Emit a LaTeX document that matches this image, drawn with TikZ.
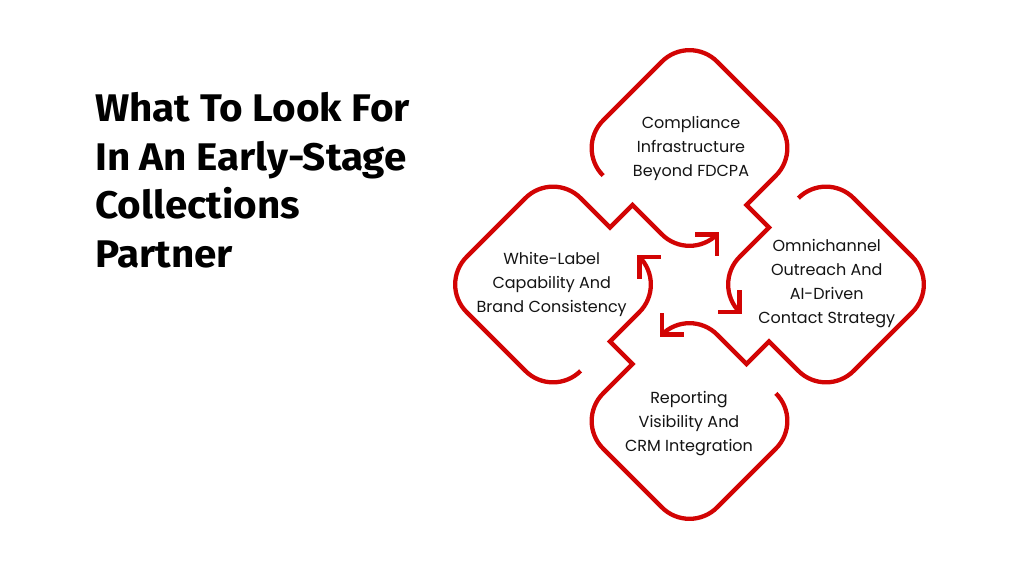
\documentclass[tikz,border=0pt]{standalone}
\usepackage{fontspec}
\setmainfont{Poppins}
\newfontfamily\titlefont[FakeStretch=1.05]{Fira Sans}
\usetikzlibrary{calc}
\definecolor{redline}{RGB}{210,4,4}
\definecolor{inktext}{RGB}{20,20,20}
% rounded corner at #1, incoming direction #2, outgoing direction #3
\newcommand\rcfirst[3]{.. controls ($(#1)-12.36*(#2)$) and ($(#1)+12.36*(#3)$) .. ($(#1)+27.6*(#3)$)}
\newcommand\rcorner[3]{-- ($(#1)-27.6*(#2)$) .. controls ($(#1)-12.36*(#2)$) and ($(#1)+12.36*(#3)$) .. ($(#1)+27.6*(#3)$)}
\begin{document}
\begin{tikzpicture}[x=1pt,y=-1pt,
  loop/.style={draw=redline,line width=4.3pt,line join=miter,line cap=butt},
  label/.style={text=inktext,font=\fontsize{16}{24}\selectfont,align=center,inner sep=0pt},
  titleline/.style={anchor=base west,inner sep=0pt,font=\titlefont\bfseries\fontsize{38.5}{48}\selectfont}]
\fill[white] (0,0) rectangle (1012,569);
\useasboundingbox (0,0) rectangle (1012,569);
\node[titleline] (t1) at (95,121.7) {What To Look For};
\node[titleline] (t2) at (95,170.2) {In An Early-Stage};
\node[titleline] (t3) at (95,218.7) {Collections};
\node[titleline] (t4) at (95,267.2) {Partner};
\begin{scope}[shift={(689.5,284.5)}]
% top shape
\coordinate (Ta) at (-114,-136.5);
\coordinate (Tb) at (0,-250.5);
\coordinate (Tc) at (114,-136.5);
\coordinate (Tp) at (57,-79.5);
\coordinate (Tq) at (79.5,-57);
\coordinate (Td) at (22.5,0);
\coordinate (Tt) at (50.1,27.6);
% right shape
\coordinate (Ra) at (136.5,-114);
\coordinate (Rb) at (250.5,0);
\coordinate (Rc) at (136.5,114);
\coordinate (Rp) at (79.5,57);
\coordinate (Rq) at (57,79.5);
\coordinate (Rd) at (0,22.5);
\coordinate (Rt) at (-27.6,50.1);
% bottom shape
\coordinate (Ba) at (114,136.5);
\coordinate (Bb) at (0,250.5);
\coordinate (Bc) at (-114,136.5);
\coordinate (Bp) at (-57,79.5);
\coordinate (Bq) at (-79.5,57);
\coordinate (Bd) at (-22.5,0);
\coordinate (Bt) at (-50.1,-27.6);
% left shape
\coordinate (La) at (-136.5,114);
\coordinate (Lb) at (-250.5,0);
\coordinate (Lc) at (-136.5,-114);
\coordinate (Lp) at (-79.5,-57);
\coordinate (Lq) at (-57,-79.5);
\coordinate (Ld) at (0,-22.5);
\coordinate (Lt) at (27.6,-50.1);

\draw[loop] ($(Ta)-27.6*(-1,-1)$) \rcfirst{Ta}{-1,-1}{1,-1}
  \rcorner{Tb}{1,-1}{1,1} \rcorner{Tc}{1,1}{-1,1}
  -- (Tp) -- (Tq) \rcorner{Td}{-1,1}{1,1};
\draw[loop] ($(Tt)+(0,-22)$) -- (Tt) -- ($(Tt)+(-22,0)$);

\draw[loop] ($(Ra)-27.6*(1,-1)$) \rcfirst{Ra}{1,-1}{1,1}
  \rcorner{Rb}{1,1}{-1,1} \rcorner{Rc}{-1,1}{-1,-1}
  -- (Rp) -- (Rq) \rcorner{Rd}{-1,-1}{-1,1};
\draw[loop] ($(Rt)+(22,0)$) -- (Rt) -- ($(Rt)+(0,-22)$);

\draw[loop] ($(Ba)-27.6*(1,1)$) \rcfirst{Ba}{1,1}{-1,1}
  \rcorner{Bb}{-1,1}{-1,-1} \rcorner{Bc}{-1,-1}{1,-1}
  -- (Bp) -- (Bq) \rcorner{Bd}{1,-1}{-1,-1};
\draw[loop] ($(Bt)+(0,22)$) -- (Bt) -- ($(Bt)+(22,0)$);

\draw[loop] ($(La)-27.6*(-1,1)$) \rcfirst{La}{-1,1}{-1,-1}
  \rcorner{Lb}{-1,-1}{1,-1} \rcorner{Lc}{1,-1}{1,1}
  -- (Lp) -- (Lq) \rcorner{Ld}{1,1}{1,-1};
\draw[loop] ($(Lt)+(-22,0)$) -- (Lt) -- ($(Lt)+(0,22)$);

\node[label] (textT) at (1.5,-136.5) {Compliance\\Infrastructure\\Beyond FDCPA};
\node[label] (textR) at (137.2,-0.5) {Omnichannel\\Outreach And\\AI-Driven\\Contact Strategy};
\node[label] (textB) at (-0.5,139) {Reporting\\Visibility And\\CRM Integration};
\node[label] (textL) at (-137.8,-0.5) {White-Label\\Capability And\\Brand Consistency};
\end{scope}
\end{tikzpicture}
\end{document}
